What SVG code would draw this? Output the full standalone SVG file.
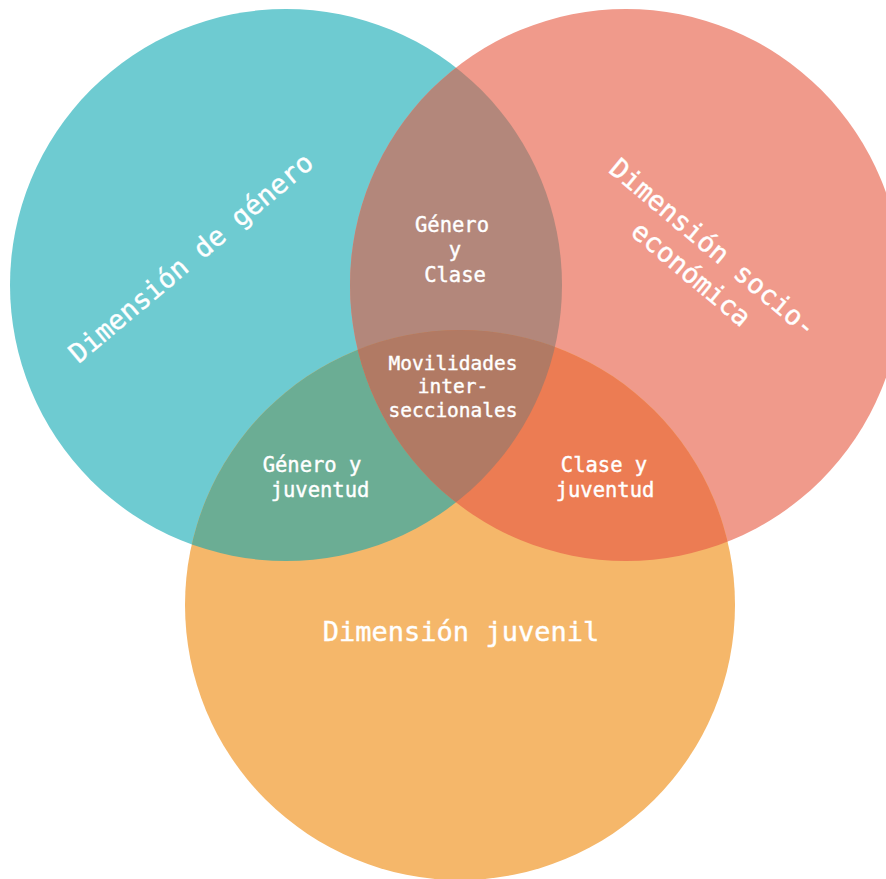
<svg xmlns="http://www.w3.org/2000/svg" width="886" height="879" viewBox="0 0 886 879">
<style>
  .lbl { font-family: "DejaVu Sans Mono", "Liberation Mono", monospace; font-weight: normal; fill: #ffffff; text-anchor: middle; stroke: #ffffff; stroke-width: 0.4; }
  .big { font-size: 27px; }
  .mid { font-size: 20.5px; }
  .sm { font-size: 19.5px; }
</style>
<defs>
  <clipPath id="cTeal"><circle cx="286" cy="285" r="276"/></clipPath>
  <clipPath id="cRed"><circle cx="626" cy="285" r="276"/></clipPath>
</defs>
<rect width="886" height="879" fill="#ffffff"/>
<g id="circles">
  <g id="teal"><circle cx="286" cy="285" r="276" fill="#6ecbd1"/></g>
  <g id="red"><circle cx="626" cy="285" r="276" fill="#f09a8b"/></g>
  <g id="orange"><circle cx="460" cy="605" r="275" fill="#f5b76a"/></g>
  <g id="teal-red"><circle cx="626" cy="285" r="276" fill="#b3877b" clip-path="url(#cTeal)"/></g>
  <g id="teal-orange"><circle cx="460" cy="605" r="275" fill="#6bad94" clip-path="url(#cTeal)"/></g>
  <g id="red-orange"><circle cx="460" cy="605" r="275" fill="#ec7c53" clip-path="url(#cRed)"/></g>
  <g id="all" clip-path="url(#cRed)"><circle cx="460" cy="605" r="275" fill="#b17a64" clip-path="url(#cTeal)"/></g>
</g>
<g id="connectors"/>
<g id="labels">
  <g id="genero"><text class="lbl big" transform="translate(191,258) rotate(-40)" y="9">Dimensión de género</text></g>
  <g id="socio"><text class="lbl big" transform="translate(702,261) rotate(40)"><tspan x="0" y="-8">Dimensión socio-</tspan><tspan x="0" y="26">económica</tspan></text></g>
  <g id="juvenil"><text class="lbl big" x="461" y="641">Dimensión juvenil</text></g>
  <g id="genero-clase"><text class="lbl mid"><tspan x="452" y="232">Género</tspan><tspan x="455" y="257">y</tspan><tspan x="455" y="282">Clase</tspan></text></g>
  <g id="movilidades"><text class="lbl sm"><tspan x="453" y="370">Movilidades</tspan><tspan x="453" y="393">inter-</tspan><tspan x="453" y="417">seccionales</tspan></text></g>
  <g id="genero-juventud"><text class="lbl mid"><tspan x="312" y="472">Género y</tspan><tspan x="320" y="497">juventud</tspan></text></g>
  <g id="clase-juventud"><text class="lbl mid"><tspan x="604" y="472">Clase y</tspan><tspan x="605" y="497">juventud</tspan></text></g>
</g>
</svg>
